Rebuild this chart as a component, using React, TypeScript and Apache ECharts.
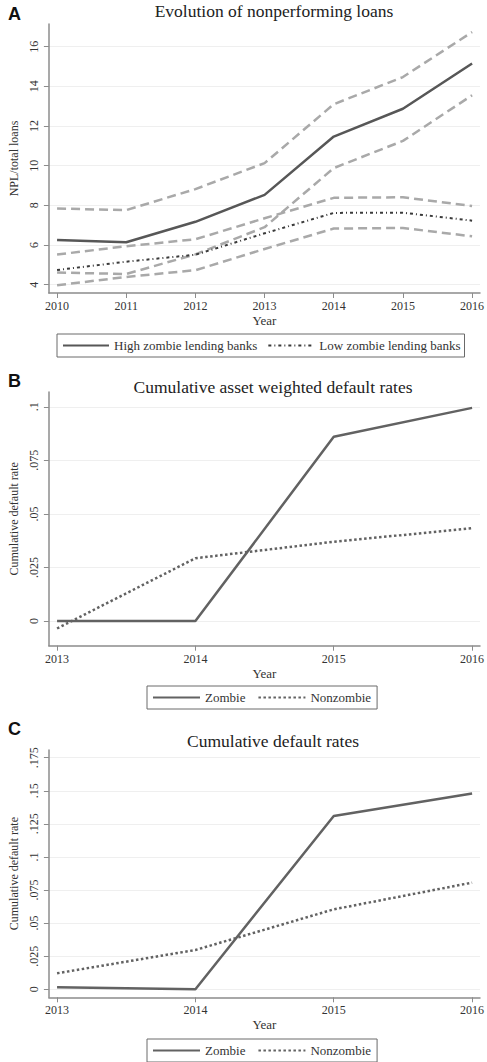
import React, { useEffect, useRef } from "react";
import * as echarts from "echarts";

// ---------- Data ----------
const yearsA = [2010, 2011, 2012, 2013, 2014, 2015, 2016];
const highZombie = [6.25, 6.14, 7.17, 8.53, 11.47, 12.87, 15.15];
const highUpper = [7.84, 7.76, 8.82, 10.13, 13.1, 14.47, 16.74];
const highLower = [4.61, 4.54, 5.53, 6.9, 9.88, 11.25, 13.55];
const lowZombie = [4.74, 5.16, 5.51, 6.59, 7.62, 7.63, 7.23];
const lowUpper = [5.52, 5.94, 6.29, 7.35, 8.38, 8.41, 7.97];
const lowLower = [3.97, 4.39, 4.73, 5.8, 6.83, 6.86, 6.44];
const yTicksA = [4, 6, 8, 10, 12, 14, 16];

const yearsBC = [2013, 2014, 2015, 2016];
const zombieB = [0, 0, 0.086, 0.0995];
const nonzombieB = [-0.0035, 0.0293, 0.037, 0.0433];
const yTicksB = [0, 0.025, 0.05, 0.075, 0.1];

const zombieC = [0.0015, 0, 0.131, 0.148];
const nonzombieC = [0.0121, 0.0297, 0.0604, 0.0806];
const yTicksC = [0, 0.025, 0.05, 0.075, 0.1, 0.125, 0.15, 0.175];

const titles = [
  "Evolution of nonperforming loans",
  "Cumulative asset weighted default rates",
  "Cumulative default rates",
];
const panelLetters = ["A", "B", "C"];

// ---------- Styles ----------
const SERIF = '"Liberation Serif", "Times New Roman", serif';
const SANS = '"Liberation Sans", Arial, sans-serif';
const AXIS_COLOR = "#8c8c8c";
const TEXT_COLOR = "#333333";

function pairs(xs: number[], ys: number[]) {
  return xs.map((x, i) => [x, ys[i]]);
}

function stataFmt(v: number): string {
  if (v === 0) return "0";
  const s = String(+v.toFixed(4));
  return s.replace(/^0\./, ".").replace(/^-0\./, "-.");
}

function xAxis(gridIndex: number, min: number, max: number, ticks: number[]) {
  return {
    type: "value",
    gridIndex,
    min,
    max,
    name: "Year",
    nameLocation: "middle",
    nameGap: 21,
    nameTextStyle: { fontFamily: SERIF, fontSize: 13, color: TEXT_COLOR },
    axisLine: { show: true, onZero: false, lineStyle: { color: AXIS_COLOR, width: 1.5 } },
    axisTick: { show: true, length: 5, customValues: ticks, lineStyle: { color: AXIS_COLOR, width: 1 } },
    axisLabel: {
      customValues: ticks,
      margin: 7,
      formatter: (v: number) => String(v),
      fontFamily: SERIF,
      fontSize: 12,
      color: TEXT_COLOR,
      hideOverlap: false,
    },
    splitLine: { show: false },
  };
}

function yAxis(gridIndex: number, min: number, max: number, ticks: number[], name: string) {
  return {
    type: "value",
    gridIndex,
    min,
    max,
    name,
    nameLocation: "middle",
    nameRotate: 90,
    nameGap: 20,
    nameTextStyle: { fontFamily: SERIF, fontSize: 12, color: TEXT_COLOR },
    axisLine: { show: true, onZero: false, lineStyle: { color: AXIS_COLOR, width: 1.5 } },
    axisTick: { show: true, length: 5, customValues: ticks, lineStyle: { color: AXIS_COLOR, width: 1 } },
    axisLabel: {
      customValues: ticks,
      rotate: 90,
      margin: 9,
      formatter: stataFmt,
      fontFamily: SERIF,
      fontSize: 12,
      color: TEXT_COLOR,
      hideOverlap: false,
    },
    splitLine: { show: true, lineStyle: { color: "#efefef", width: 1 } },
  };
}

function lineSeries(
  name: string,
  idx: number,
  xs: number[],
  ys: number[],
  color: string,
  width: number,
  type: any,
  z: number
) {
  return {
    name,
    type: "line",
    xAxisIndex: idx,
    yAxisIndex: idx,
    data: pairs(xs, ys),
    symbol: "none",
    z,
    color,
    itemStyle: { color },
    lineStyle: { color, width, type, cap: "butt" },
    emphasis: { disabled: true },
  };
}

function legend(left: number, top: number, names: string[], itemWidth: number, itemGap: number, padRight: number) {
  return {
    data: names,
    left,
    top,
    orient: "horizontal",
    selectedMode: false,
    padding: [5, padRight, 5, 5],
    itemWidth,
    itemHeight: 13,
    itemGap,
    borderColor: "#6a6a6a",
    borderWidth: 1,
    backgroundColor: "#ffffff",
    itemStyle: { color: "transparent", borderColor: "transparent", borderWidth: 0, opacity: 0 },
    textStyle: { fontFamily: SERIF, fontSize: 13, color: TEXT_COLOR },
  };
}

export default function App() {
  const ref = useRef<HTMLDivElement>(null);

  useEffect(() => {
    document.body.style.margin = "0";
    if (!ref.current) return;
    const chart = echarts.init(ref.current, null, { renderer: "svg" });

    const CI = "#a9a9a9";
    const DARK = "#575757";
    const MID = "#626262";

    const option: any = {
      animation: false,
      backgroundColor: "#ffffff",
      grid: [
        { left: 44, top: 24, width: 438, height: 269 },
        { left: 44, top: 392, width: 438, height: 253.7 },
        { left: 44, top: 750, width: 438, height: 247.3 },
      ],
      xAxis: [
        xAxis(0, 2009.882, 2016.114, yearsA),
        xAxis(1, 2012.941, 2016.057, yearsBC),
        xAxis(2, 2012.941, 2016.057, yearsBC),
      ],
      yAxis: [
        yAxis(0, 3.581, 17.145, yTicksA, "NPL/total loans"),
        yAxis(1, -0.01153, 0.1069, yTicksB, "Cumulative default rate"),
        yAxis(2, -0.00605, 0.18081, yTicksC, "Cumulative default rate"),
      ],
      legend: [
        legend(57, 334, ["High zombie lending banks", "Low zombie lending banks"], 46, 10, 4),
        legend(147, 686, ["Zombie", "Nonzombie"], 47, 12, 6),
        legend(147, 1039, ["Zombie", "Nonzombie"], 47, 12, 6),
      ],
      series: [
        lineSeries("High upper", 0, yearsA, highUpper, CI, 2.5, [9, 5], 2),
        lineSeries("High lower", 0, yearsA, highLower, CI, 2.5, [9, 5], 2),
        lineSeries("Low upper", 0, yearsA, lowUpper, CI, 2.5, [9, 5], 2),
        lineSeries("Low lower", 0, yearsA, lowLower, CI, 2.5, [9, 5], 2),
        lineSeries("High zombie lending banks", 0, yearsA, highZombie, DARK, 2.5, "solid", 3),
        lineSeries("Low zombie lending banks", 0, yearsA, lowZombie, "#3a3a3a", 2, [3, 3, 1, 3], 3),
        lineSeries("Zombie", 1, yearsBC, zombieB, MID, 2.5, "solid", 3),
        lineSeries("Nonzombie", 1, yearsBC, nonzombieB, MID, 2.5, [2.5, 2.5], 3),
        lineSeries("Zombie", 2, yearsBC, zombieC, MID, 2.5, "solid", 3),
        lineSeries("Nonzombie", 2, yearsBC, nonzombieC, MID, 2.5, [2.5, 2.5], 3),
      ],
      graphic: [
        { type: "text", x: 8, y: 14, style: { text: panelLetters[0], font: `bold 18px ${SANS}`, fill: "#111", textVerticalAlign: "middle" } },
        { type: "text", x: 8, y: 380.5, style: { text: panelLetters[1], font: `bold 18px ${SANS}`, fill: "#111", textVerticalAlign: "middle" } },
        { type: "text", x: 8, y: 729, style: { text: panelLetters[2], font: `bold 18px ${SANS}`, fill: "#111", textVerticalAlign: "middle" } },
        { type: "text", x: 274, y: 11, style: { text: titles[0], font: `17.5px ${SERIF}`, fill: "#222", textAlign: "center", textVerticalAlign: "middle" } },
        { type: "text", x: 273, y: 387, style: { text: titles[1], font: `17.5px ${SERIF}`, fill: "#222", textAlign: "center", textVerticalAlign: "middle" } },
        { type: "text", x: 273, y: 741, style: { text: titles[2], font: `17.5px ${SERIF}`, fill: "#222", textAlign: "center", textVerticalAlign: "middle" } },
      ],
    };

    chart.setOption(option);
    return () => chart.dispose();
  }, []);

  return <div ref={ref} style={{ width: 487, height: 1062 }} />;
}
